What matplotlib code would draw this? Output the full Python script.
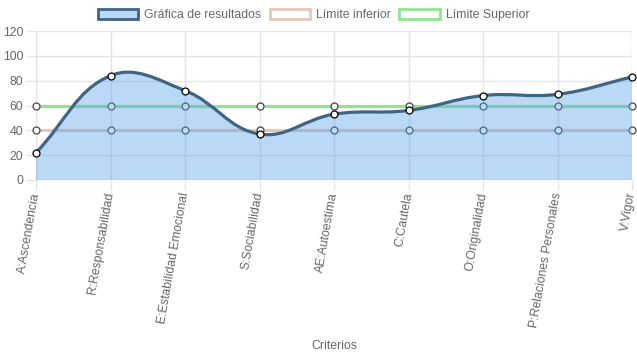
import numpy as np
import matplotlib
matplotlib.use("Agg")
import matplotlib.pyplot as plt
from matplotlib.path import Path
from matplotlib.patches import PathPatch, Patch

categories = ["A:Ascendencia", "R:Responsabilidad", "E:Estabilidad Emocional",
              "S:Sociabilidad", "AE:Autoestima", "C:Cautela", "O:Originalidad",
              "P:Relaciones Personales", "V:Vigor"]
resultados = [22, 84, 72, 37, 53, 56, 68, 69, 83]
limite_inferior = [40, 40, 40, 40, 40, 40, 40, 40, 40]
limite_superior = [60, 60, 60, 60, 60, 60, 60, 60, 60]
y_ticks = [0, 20, 40, 60, 80, 100, 120]

plt.rcParams['font.family'] = ['Liberation Sans', 'DejaVu Sans']
fig = plt.figure(figsize=(6.37, 3.59), dpi=100)
ax = fig.add_axes([36/637, 1-180/359, 596/637, 149/359])
n = len(categories)
x = np.arange(n)
ax.set_xlim(0, n-1)
ax.set_ylim(0, 120)

grid_c = "#e5e5e5"
for s in ax.spines.values():
    s.set_visible(False)
ax.set_yticks(y_ticks)
ax.set_xticks(x)
ax.grid(True, color=grid_c, linewidth=1)
ax.set_axisbelow(True)
ax.axhline(0, color="#cccccc", lw=1, zorder=0.5)
ax.axvline(0, color="#cccccc", lw=1, zorder=0.5)
ax.tick_params(axis='both', colors=grid_c, labelcolor="#666666", labelsize=8.8, length=7, width=1)
ax.tick_params(axis='y', pad=2)
ax.tick_params(axis='x', pad=2)
ax.set_xticklabels(categories, rotation=80, ha='right', va='center', rotation_mode='anchor')

low_c = "#e6c8b8"
up_c = "#90e690"
line_c = "#3f6484"
fill_c = (0.33, 0.63, 0.92, 0.40)

# limit lines (below fill)
ax.plot(x, limite_inferior, color=low_c, lw=2.3, zorder=2, solid_capstyle='butt')
ax.plot(x, limite_superior, color=up_c, lw=2.3, zorder=2, solid_capstyle='butt')
ax.plot(x, limite_inferior, 'o', ms=5, mfc='white', mec='#444444', mew=0.9, zorder=2.1, clip_on=False)
ax.plot(x, limite_superior, 'o', ms=5, mfc='white', mec='#444444', mew=0.9, zorder=2.1, clip_on=False)

# Chart.js style spline (tension 0.4) computed in pixel space
fig.canvas.draw()
T = ax.transData
pts = T.transform(np.column_stack([x, resultados]))
t = 0.4
cps = []
for i in range(n):
    p1 = pts[i]
    p0 = pts[i-1] if i > 0 else p1
    p2 = pts[i+1] if i < n-1 else p1
    d01 = np.hypot(*(p1-p0)); d12 = np.hypot(*(p2-p1))
    tot = d01 + d12
    s01 = d01/tot if tot else 0; s12 = d12/tot if tot else 0
    prev = p1 - t*s01*(p2-p0)
    nxt = p1 + t*s12*(p2-p0)
    cps.append((prev, nxt))
inv = T.inverted()
verts = [tuple(inv.transform(pts[0]))]
codes = [Path.MOVETO]
for i in range(n-1):
    verts += [tuple(inv.transform(cps[i][1])), tuple(inv.transform(cps[i+1][0])), tuple(inv.transform(pts[i+1]))]
    codes += [Path.CURVE4]*3
line_path = Path(verts, codes)
fverts = verts + [(n-1, 0), (0, 0), verts[0]]
fcodes = codes + [Path.LINETO, Path.LINETO, Path.CLOSEPOLY]
ax.add_patch(PathPatch(Path(fverts, fcodes), facecolor=fill_c, edgecolor='none', zorder=3))
ax.add_patch(PathPatch(line_path, facecolor='none', edgecolor=line_c, lw=2.3, zorder=4))
ax.plot(x, resultados, 'o', ms=5, mfc='white', mec='black', mew=0.9, zorder=5, clip_on=False)

ax.set_xlabel("Criterios", color="#666666", fontsize=8.8)
ax.xaxis.set_label_coords(0.5, -(346-180)/149, transform=ax.transAxes)
ax.xaxis.label.set_va('center')

handles = [Patch(facecolor=(0.72, 0.85, 0.97), edgecolor=line_c, lw=2),
           Patch(facecolor='white', edgecolor=low_c, lw=2),
           Patch(facecolor='white', edgecolor=up_c, lw=2)]
fig.legend(handles, ["Gráfica de resultados", "Límite inferior", "Límite Superior"],
           loc='center', bbox_to_anchor=(0.492, 1-15/359), ncol=3, frameon=False,
           fontsize=8.8, labelcolor="#666666", handlelength=3.3, handleheight=0.9,
           columnspacing=0.7, handletextpad=0.5)

fig.savefig("out.png", dpi=100)
